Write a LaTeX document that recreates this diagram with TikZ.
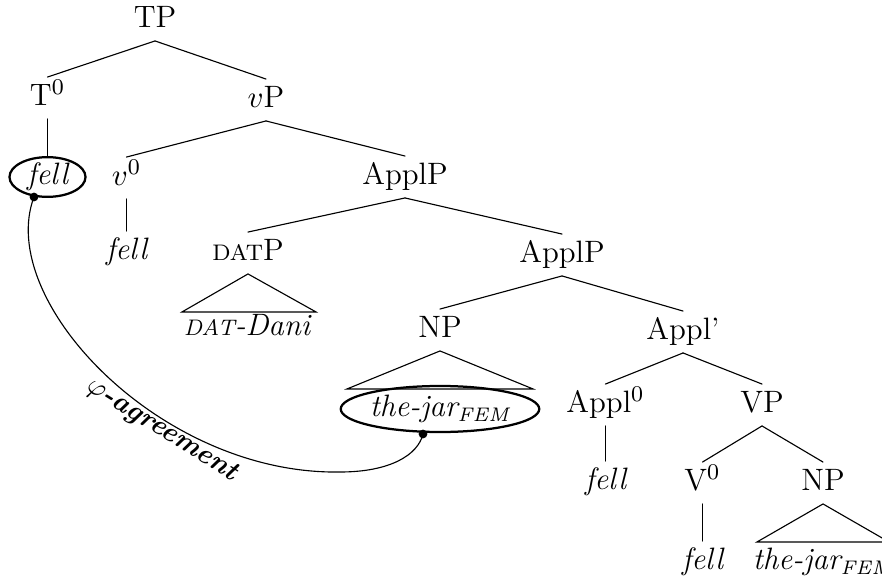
\documentclass[tikz,border=0pt]{standalone}
\usepackage{amsmath, amssymb}
\usepackage{tikz}
\usetikzlibrary{shapes.geometric}

\newcommand{\femsub}{$_{\textit{\scriptsize FEM}}$}
\newcommand{\datsc}{{\footnotesize DAT}}

\begin{document}
\begin{tikzpicture}
		[x=0.0125cm,y=-0.0125cm,line cap=round,
		%Styles
		cat/.style={inner sep=2.5pt,text height=7.5pt,text depth=2pt,font=\fontsize{11}{13}\selectfont},
		leaf/.style={cat,font=\fontsize{11}{13}\selectfont\itshape},
		circled/.style={ellipse,draw,thick,inner sep=0pt,font=\fontsize{11}{13}\selectfont\itshape},
		dot/.style={circle,fill,inner sep=1.1pt},
		agree text/.style={font=\bfseries\itshape,rotate=-32}
		]
		
		\useasboundingbox (0,0) rectangle (882,577);
		
		\node[cat] (tp) at (155,20) {TP};
		\node[cat] (t0) at (47.5,98) {T$^0$};
		\node[cat] (vp) at (266,100) {$v$P};
		\node[circled,minimum width=0.95cm,minimum height=0.39cm] (fellT) at (47.5,177) {fell};
		\node[cat] (v0) at (126.5,178) {$v^0$};
		\node[leaf] (fellv) at (126.5,252) {fell};
		\node[cat] (applp) at (405,177) {ApplP};
		\node[cat] (datp) at (248,253) {\datsc P};
		\node[leaf] (dani) at (247,328) {\datsc-Dani};
		\node[cat] (applpb) at (562,255) {ApplP};
		\node[cat] (np) at (440,330) {NP};
		\node[circled,minimum width=2.45cm,minimum height=0.575cm] (jar) at (440,409) {the-jar\femsub};
		\node[cat] (applbar) at (683,332) {Appl'};
		\node[cat] (appl0) at (605.5,405) {Appl$^0$};
		\node[cat] (vpb) at (762,405) {VP};
		\node[leaf] (fellappl) at (605.5,482) {fell};
		\node[cat] (vv0) at (702.5,483) {V$^0$};
		\node[cat] (npb) at (823,483) {NP};
		\node[leaf] (fellV) at (702.5,562) {fell};
		\node[leaf] (jarb) at (823,562) {the-jar\femsub};
		
		\path
			(tp.south) edge (t0.north)
				edge (vp.north)
			(t0.south) edge (fellT.north)
			(vp.south) edge (v0.north)
				edge (applp.north)
			(v0.south) edge (fellv.north)
			(applp.south) edge (datp.north)
				edge (applpb.north)
			(applpb.south) edge (np.north)
				edge (applbar.north)
			(applbar.south) edge (appl0.north)
				edge (vpb.north)
			(appl0.south) edge (fellappl.north)
			(vpb.south) edge (vv0.north)
				edge (npb.north)
			(vv0.south) edge (fellV.north);
		
		%triangles
		\draw (datp.south) -- +(-66,38) -- +(68,38) -- cycle;
		\draw (np.south) -- +(-93,38) -- +(93,38) -- cycle;
		\draw (npb.south) -- +(-66,38) -- +(66,38) -- cycle;
		
		%agreement
		\node[dot] (agr1) at (34,197) {};
		\node[dot] (agr2) at (423,434) {};
		\draw (agr1.center) .. controls (-5,300) and (160,475) .. (340,472)
			.. controls (390,472) and (418,455) .. (agr2.center);
		\node[agree text] (agrlabel) at (162,430) {$\varphi$-agreement};
\end{tikzpicture}
\end{document}
